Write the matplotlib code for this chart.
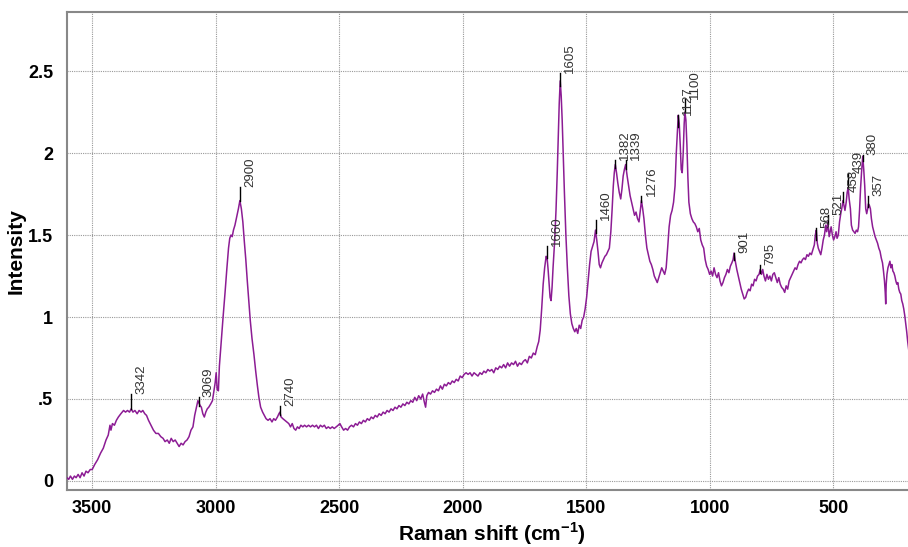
import matplotlib
matplotlib.use("Agg")
import matplotlib.pyplot as plt
import numpy as np

plt.rcParams['font.family'] = ['Liberation Sans', 'DejaVu Sans']
plt.rcParams['mathtext.fontset'] = 'custom'
plt.rcParams['mathtext.rm'] = 'Liberation Sans'
plt.rcParams['mathtext.bf'] = 'Liberation Sans:bold'

# ---- spectrum (wavenumber in cm-1, intensity) ----
raman_shift = [
    3602, 3595, 3588, 3580, 3572, 3565, 3557, 3549, 3541, 3533, 3525, 3517, 3508, 3500, 3490, 3478,
    3466, 3455, 3444, 3435, 3428, 3424, 3418, 3410, 3402, 3394, 3384, 3373, 3365, 3357, 3349, 3342,
    3335, 3327, 3318, 3310, 3302, 3295, 3287, 3280, 3272, 3262, 3252, 3242, 3232, 3222, 3213, 3205,
    3196, 3188, 3180, 3172, 3164, 3156, 3148, 3140, 3132, 3124, 3116, 3108, 3100, 3092, 3085, 3078,
    3072, 3069, 3063, 3058, 3052, 3046, 3040, 3034, 3028, 3020, 3013, 3007, 3002, 2998, 2994, 2989,
    2985, 2978, 2970, 2962, 2955, 2948, 2943, 2938, 2933, 2928, 2922, 2915, 2908, 2902, 2896, 2890,
    2884, 2878, 2872, 2866, 2860, 2853, 2845, 2838, 2831, 2825, 2818, 2810, 2803, 2796, 2788, 2780,
    2772, 2765, 2758, 2750, 2744, 2740, 2735, 2728, 2720, 2712, 2704, 2697, 2690, 2683, 2676, 2669,
    2662, 2655, 2647, 2640, 2632, 2624, 2616, 2608, 2600, 2592, 2584, 2576, 2568, 2560, 2552, 2544,
    2536, 2528, 2520, 2512, 2504, 2497, 2490, 2482, 2474, 2466, 2458, 2450, 2442, 2434, 2426, 2418,
    2410, 2402, 2394, 2386, 2378, 2370, 2362, 2354, 2346, 2338, 2330, 2322, 2314, 2306, 2298, 2290,
    2282, 2274, 2266, 2258, 2250, 2242, 2234, 2226, 2218, 2210, 2202, 2194, 2186, 2178, 2170, 2162,
    2155, 2150, 2145, 2138, 2130, 2122, 2114, 2106, 2098, 2090, 2082, 2074, 2066, 2058, 2050, 2042,
    2034, 2026, 2018, 2010, 2002, 1994, 1986, 1978, 1970, 1962, 1954, 1946, 1938, 1930, 1922, 1914,
    1906, 1898, 1890, 1882, 1874, 1866, 1858, 1850, 1842, 1834, 1826, 1818, 1810, 1802, 1794, 1786,
    1778, 1770, 1762, 1754, 1746, 1738, 1730, 1722, 1714, 1706, 1698, 1692, 1686, 1680, 1674, 1668,
    1662, 1658, 1654, 1650, 1646, 1642, 1638, 1634, 1628, 1622, 1617, 1613, 1609, 1605, 1601, 1597,
    1593, 1588, 1582, 1576, 1570, 1564, 1558, 1552, 1546, 1540, 1534, 1528, 1522, 1516, 1510, 1504,
    1498, 1492, 1486, 1480, 1474, 1468, 1462, 1457, 1452, 1447, 1442, 1436, 1430, 1424, 1418, 1412,
    1406, 1400, 1395, 1390, 1386, 1382, 1377, 1372, 1366, 1360, 1355, 1350, 1345, 1340, 1334, 1328,
    1322, 1316, 1310, 1304, 1298, 1292, 1286, 1280, 1276, 1271, 1266, 1260, 1254, 1248, 1242, 1236,
    1230, 1224, 1218, 1212, 1206, 1200, 1194, 1188, 1182, 1176, 1170, 1164, 1158, 1152, 1146, 1140,
    1135, 1130, 1127, 1123, 1119, 1115, 1111, 1107, 1103, 1100, 1096, 1092, 1088, 1084, 1078, 1072,
    1066, 1060, 1054, 1048, 1042, 1036, 1030, 1024, 1018, 1012, 1006, 1000, 994, 988, 982, 976,
    970, 964, 958, 952, 946, 940, 934, 928, 922, 916, 910, 905, 901, 896, 890, 884,
    878, 872, 866, 860, 854, 848, 842, 836, 830, 824, 818, 812, 806, 800, 795, 790,
    785, 780, 774, 768, 762, 756, 750, 744, 738, 732, 726, 720, 714, 708, 702, 696,
    690, 684, 678, 672, 666, 660, 654, 648, 642, 636, 630, 624, 618, 612, 606, 600,
    594, 588, 582, 576, 572, 568, 564, 560, 555, 550, 545, 540, 535, 530, 526, 521,
    516, 512, 508, 503, 498, 493, 488, 484, 479, 474, 469, 464, 460, 456, 452, 447,
    443, 439, 435, 430, 426, 421, 416, 411, 406, 401, 397, 393, 389, 385, 380, 376,
    372, 368, 364, 360, 357, 353, 349, 345, 340, 335, 330, 325, 320, 315, 310, 305,
    300, 296, 292, 289, 287, 285, 282, 278, 274, 270, 266, 262, 258, 254, 250, 246,
    242, 238, 234, 230, 226, 222, 218, 214, 210, 206, 202, 198, 194, 190, 186, 182,
    178, 174, 170, 166, 162,
]
intensity = [
    0.02, 0.01, 0.03, 0.01, 0.03, 0.02, 0.04, 0.02, 0.05, 0.03, 0.06, 0.05, 0.07, 0.07, 0.10, 0.13,
    0.17, 0.20, 0.25, 0.28, 0.34, 0.31, 0.35, 0.34, 0.37, 0.39, 0.41, 0.43, 0.42, 0.43, 0.42, 0.44,
    0.42, 0.43, 0.41, 0.43, 0.42, 0.43, 0.41, 0.40, 0.37, 0.34, 0.31, 0.29, 0.29, 0.27, 0.26, 0.24,
    0.25, 0.23, 0.26, 0.24, 0.25, 0.23, 0.21, 0.23, 0.22, 0.24, 0.25, 0.27, 0.31, 0.33, 0.40, 0.45,
    0.49, 0.48, 0.46, 0.45, 0.41, 0.39, 0.42, 0.44, 0.45, 0.47, 0.49, 0.55, 0.60, 0.66, 0.56, 0.55,
    0.70, 0.84, 1.00, 1.15, 1.29, 1.42, 1.48, 1.50, 1.49, 1.53, 1.56, 1.61, 1.66, 1.71, 1.66, 1.58,
    1.46, 1.35, 1.22, 1.10, 0.98, 0.87, 0.77, 0.67, 0.58, 0.51, 0.45, 0.42, 0.40, 0.38, 0.37, 0.38,
    0.36, 0.38, 0.37, 0.39, 0.41, 0.42, 0.39, 0.38, 0.37, 0.36, 0.35, 0.33, 0.35, 0.32, 0.31, 0.33,
    0.32, 0.34, 0.33, 0.34, 0.33, 0.34, 0.33, 0.34, 0.33, 0.34, 0.32, 0.34, 0.33, 0.34, 0.32, 0.33,
    0.32, 0.33, 0.32, 0.33, 0.34, 0.35, 0.33, 0.31, 0.32, 0.31, 0.33, 0.34, 0.33, 0.35, 0.34, 0.36,
    0.35, 0.37, 0.36, 0.38, 0.37, 0.39, 0.38, 0.40, 0.39, 0.41, 0.40, 0.42, 0.41, 0.43, 0.42, 0.44,
    0.43, 0.45, 0.44, 0.46, 0.45, 0.47, 0.46, 0.48, 0.47, 0.49, 0.48, 0.51, 0.49, 0.52, 0.50, 0.53,
    0.48, 0.45, 0.52, 0.54, 0.53, 0.55, 0.54, 0.56, 0.55, 0.58, 0.56, 0.59, 0.58, 0.60, 0.59, 0.61,
    0.60, 0.62, 0.61, 0.64, 0.63, 0.65, 0.66, 0.65, 0.66, 0.64, 0.66, 0.65, 0.64, 0.66, 0.65, 0.67,
    0.66, 0.68, 0.67, 0.68, 0.66, 0.69, 0.68, 0.70, 0.69, 0.71, 0.69, 0.72, 0.70, 0.72, 0.71, 0.73,
    0.70, 0.72, 0.71, 0.73, 0.74, 0.72, 0.76, 0.75, 0.78, 0.77, 0.82, 0.85, 0.92, 1.05, 1.20, 1.30,
    1.37, 1.36, 1.29, 1.20, 1.12, 1.10, 1.18, 1.30, 1.45, 1.65, 1.88, 2.10, 2.30, 2.44, 2.35, 2.20,
    2.00, 1.76, 1.50, 1.30, 1.13, 1.02, 0.96, 0.93, 0.91, 0.93, 0.90, 0.95, 0.93, 0.98, 1.00, 1.05,
    1.12, 1.22, 1.32, 1.40, 1.43, 1.46, 1.53, 1.47, 1.40, 1.32, 1.30, 1.33, 1.35, 1.37, 1.38, 1.40,
    1.42, 1.52, 1.65, 1.80, 1.88, 1.93, 1.88, 1.82, 1.76, 1.72, 1.78, 1.86, 1.90, 1.93, 1.86, 1.80,
    1.74, 1.70, 1.66, 1.62, 1.64, 1.60, 1.58, 1.66, 1.71, 1.66, 1.60, 1.50, 1.42, 1.38, 1.34, 1.32,
    1.29, 1.25, 1.23, 1.21, 1.24, 1.27, 1.30, 1.28, 1.26, 1.30, 1.42, 1.55, 1.62, 1.65, 1.70, 1.80,
    2.00, 2.15, 2.23, 2.18, 2.05, 1.90, 1.88, 2.00, 2.18, 2.25, 2.20, 2.05, 1.85, 1.70, 1.63, 1.60,
    1.58, 1.57, 1.55, 1.52, 1.54, 1.47, 1.44, 1.42, 1.35, 1.31, 1.29, 1.26, 1.28, 1.25, 1.30, 1.26,
    1.24, 1.27, 1.22, 1.19, 1.21, 1.24, 1.26, 1.29, 1.27, 1.31, 1.33, 1.35, 1.39, 1.34, 1.29, 1.25,
    1.21, 1.17, 1.14, 1.11, 1.12, 1.15, 1.17, 1.16, 1.20, 1.19, 1.23, 1.22, 1.25, 1.26, 1.29, 1.26,
    1.29, 1.25, 1.22, 1.26, 1.23, 1.25, 1.22, 1.26, 1.27, 1.24, 1.21, 1.24, 1.20, 1.18, 1.17, 1.15,
    1.19, 1.17, 1.22, 1.24, 1.26, 1.28, 1.30, 1.29, 1.32, 1.34, 1.33, 1.35, 1.36, 1.35, 1.38, 1.37,
    1.39, 1.38, 1.41, 1.44, 1.50, 1.53, 1.45, 1.42, 1.40, 1.38, 1.42, 1.47, 1.50, 1.56, 1.52, 1.58,
    1.49, 1.52, 1.55, 1.50, 1.47, 1.49, 1.52, 1.48, 1.50, 1.58, 1.63, 1.67, 1.71, 1.68, 1.65, 1.70,
    1.76, 1.79, 1.72, 1.66, 1.56, 1.53, 1.52, 1.51, 1.53, 1.52, 1.55, 1.65, 1.78, 1.88, 1.98, 1.90,
    1.80, 1.66, 1.63, 1.66, 1.69, 1.68, 1.66, 1.60, 1.55, 1.52, 1.49, 1.47, 1.45, 1.42, 1.40, 1.36,
    1.33, 1.28, 1.22, 1.15, 1.08, 1.20, 1.26, 1.30, 1.32, 1.34, 1.30, 1.32, 1.28, 1.27, 1.25, 1.22,
    1.20, 1.21, 1.17, 1.15, 1.14, 1.10, 1.08, 1.05, 1.01, 0.96, 0.91, 0.85, 0.80, 0.76, 0.71, 0.64,
    0.55, 0.46, 0.38, 0.32, 0.30,
]

# ---- peak annotations: label, tick bottom, tick top ----
peak_labels = ['3342', '3069', '2900', '2740', '1660', '1605', '1460', '1382', '1339', '1276',
               '1127', '1100', '901', '795', '568', '521', '458', '439', '380', '357']
peak_pos = [3342, 3069, 2900, 2740, 1660, 1605, 1460, 1382, 1339, 1276,
            1127, 1100, 901, 795, 568, 521, 458, 439, 380, 357]
tick_lo = [0.44, 0.46, 1.71, 0.40, 1.36, 2.41, 1.51, 1.91, 1.90, 1.70,
           2.16, 2.25, 1.35, 1.27, 1.47, 1.57, 1.70, 1.79, 1.95, 1.67]
tick_hi = [0.53, 0.51, 1.79, 0.46, 1.43, 2.49, 1.59, 1.96, 1.96, 1.74,
           2.23, 2.33, 1.39, 1.32, 1.54, 1.62, 1.76, 1.88, 1.99, 1.74]

x_ticks = [3500, 3000, 2500, 2000, 1500, 1000, 500]
y_ticks = [0, 0.5, 1, 1.5, 2, 2.5]
y_tick_labels = ['0', '.5', '1', '1.5', '2', '2.5']

fig = plt.figure(figsize=(9.08, 5.47), dpi=100)
ax = fig.add_axes([67 / 908, 1 - 490 / 547, 1 - 67 / 908 + 0.01, (490 - 12) / 547])

ax.plot(raman_shift, intensity, color='#8c1c94', lw=1.1, zorder=3)

for lab, p, lo, hi in zip(peak_labels, peak_pos, tick_lo, tick_hi):
    ax.plot([p, p], [lo, hi], color='black', lw=1.0, zorder=4)
    ax.annotate(lab, xy=(p, hi), xytext=(3, 0), textcoords='offset points',
                rotation=90, ha='left', va='bottom', fontsize=9.5, color='#333333',
                family=['Liberation Sans', 'DejaVu Sans'], zorder=5)

ax.set_xlim(3602, 160)
ax.set_ylim(-0.055, 2.86)
ax.set_xticks(x_ticks)
ax.set_yticks(y_ticks)
ax.set_yticklabels(y_tick_labels)
ax.tick_params(axis='x', length=0, labelsize=13, pad=7)
ax.tick_params(axis='y', length=0, labelsize=13, pad=10)
for lbl in ax.get_xticklabels() + ax.get_yticklabels():
    lbl.set_fontweight('bold')

ax.grid(True, color='#999999', linestyle=(0, (1, 1)), lw=0.8)
for s in ['left', 'bottom', 'top', 'right']:
    ax.spines[s].set_color('#888888')
    ax.spines[s].set_linewidth(1.5)

ax.set_xlabel(r'Raman shift (cm$^{\mathbf{-1}}$)', fontsize=15, fontweight='bold', labelpad=3)
ax.set_ylabel('Intensity', fontsize=15, fontweight='bold', labelpad=2)

fig.savefig('out.png', dpi=100)
